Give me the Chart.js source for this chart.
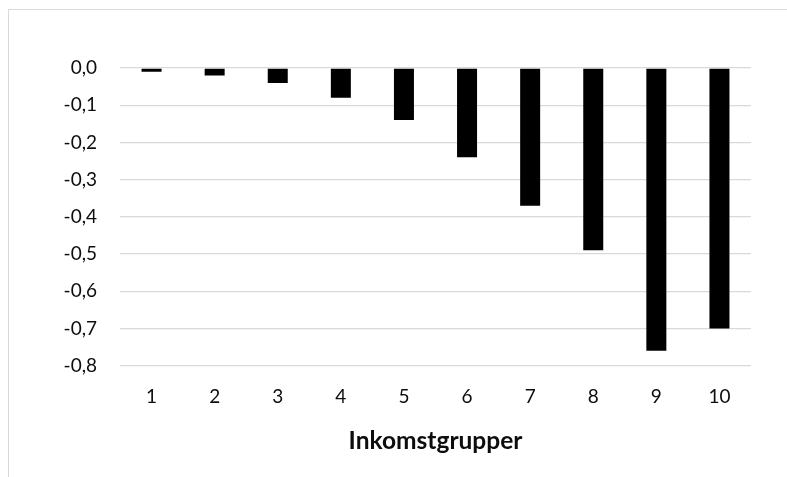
<!DOCTYPE html>
<html>
<head>
<meta charset="utf-8">
<script src="https://cdn.jsdelivr.net/npm/chart.js@4"></script>
<style>
  html, body { margin: 0; padding: 0; background: #fff; overflow: hidden; }
  #wrap { position: absolute; left: 0; top: 0; width: 787px; height: 477px; }
  #frame { position: absolute; left: 8px; top: 9px; width: 900px; height: 600px; border: 1px solid #d9d9d9; pointer-events: none; }
</style>
</head>
<body>
<div id="frame"></div>
<div id="wrap"><canvas id="c" width="787" height="477"></canvas></div>
<script>
const categories = ['1', '2', '3', '4', '5', '6', '7', '8', '9', '10'];
const values = [-0.01, -0.02, -0.04, -0.08, -0.14, -0.24, -0.37, -0.49, -0.76, -0.70];
const yMin = -0.8;
const yMax = 0.0;
const yStep = 0.1;
const xTitle = 'Inkomstgrupper';

function fmt(v) {
  const r = Math.round(v * 10) / 10;
  if (Math.abs(r) < 1e-9) return '0,0';
  return r.toFixed(1).replace('.', ',');
}

const FONT = 'Lato, "Open Sans", sans-serif';

new Chart(document.getElementById('c'), {
  type: 'bar',
  data: {
    labels: categories,
    datasets: [{
      data: values,
      backgroundColor: '#000000',
      borderWidth: 0,
      barPercentage: 0.317,
      categoryPercentage: 1.0
    }]
  },
  options: {
    responsive: false,
    animation: false,
    devicePixelRatio: 1,
    layout: { padding: { left: 0, right: 36, top: 68, bottom: 0 } },
    plugins: { legend: { display: false }, tooltip: { enabled: false } },
    scales: {
      x: {
        grid: { display: false, drawTicks: false },
        border: { display: false },
        ticks: { color: '#0d0d0d', font: { family: FONT, size: 19 }, padding: 20, maxRotation: 0 },
        title: { display: true, text: xTitle, color: '#0d0d0d', font: { family: FONT, size: 24.5, weight: 'bold' }, padding: { top: 0, bottom: 21 } },
        afterFit: (s) => { s.height = 111.3; }
      },
      y: {
        min: yMin,
        max: yMax,
        grid: { color: '#d9d9d9', lineWidth: 1.3, drawTicks: false },
        border: { display: false },
        ticks: { stepSize: yStep, color: '#0d0d0d', font: { family: FONT, size: 19 }, padding: 23, callback: (v) => fmt(v) },
        afterFit: (s) => { s.width = 120; }
      }
    }
  }
});
</script>
</body>
</html>
